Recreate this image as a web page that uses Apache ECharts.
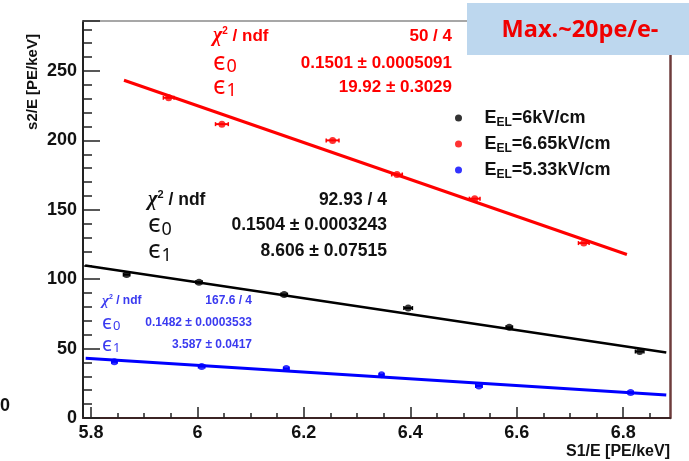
<!DOCTYPE html>
<html>
<head>
<meta charset="utf-8">
<script src="https://cdn.jsdelivr.net/npm/echarts@6/dist/echarts.min.js"></script>
<style>
  html, body { margin: 0; padding: 0; background: #fff; }
  #chart { width: 689px; height: 461px; }
</style>
</head>
<body>
<div id="chart"></div>
<script>
// measured points, S1/E vs s2/E
const blackX = [5.867, 6.003, 6.163, 6.396, 6.586, 6.831];
const blackY = [103.3, 97.8, 88.9, 79.2, 65.3, 47.9];
const blackErrX = [0.006, 0.006, 0.006, 0.008, 0.006, 0.008];

const redX = [5.946, 6.046, 6.254, 6.375, 6.521, 6.726];
const redY = [230.7, 211.7, 200.0, 175.4, 158.0, 126.0];
const redErrX = [0.010, 0.012, 0.012, 0.010, 0.010, 0.010];

const blueX = [5.844, 6.008, 6.167, 6.346, 6.529, 6.814];
const blueY = [40.5, 37.1, 35.6, 31.1, 23.1, 18.3];
const blueErrX = [0.005, 0.006, 0.005, 0.004, 0.006, 0.005];

// fit line end points
const blackFitX = [5.789, 6.881];
const blackFitY = [109.8, 47.2];
const redFitX = [5.862, 6.807];
const redFitY = [243.3, 117.8];
const blueFitX = [5.790, 6.881];
const blueFitY = [43.1, 16.6];

const xMajor = [5.8, 6.0, 6.2, 6.4, 6.6, 6.8];
const xMinor = [5.85, 5.9, 5.95, 6.05, 6.1, 6.15, 6.25, 6.3, 6.35, 6.45, 6.5, 6.55, 6.65, 6.7, 6.75, 6.85];

const names = ["E_EL=6kV/cm", "E_EL=6.65kV/cm", "E_EL=5.33kV/cm"];

const zip = (xs, ys) => xs.map((x, i) => [x, ys[i]]);
const zipErr = (xs, ys, es) => xs.map((x, i) => [x, ys[i], es[i]]);

const errBars = (data, color) => ({
    type: "custom",
    silent: true,
    data: data,
    renderItem: (params, api) => {
        const a = api.coord([api.value(0) - api.value(2), api.value(1)]);
        const b = api.coord([api.value(0) + api.value(2), api.value(1)]);
        return {
            type: "group",
            children: [
                { type: "line", shape: { x1: a[0], y1: a[1], x2: b[0], y2: b[1] }, style: { stroke: color, lineWidth: 2 } },
                { type: "line", shape: { x1: a[0], y1: a[1] - 2, x2: a[0], y2: a[1] + 2 }, style: { stroke: color, lineWidth: 1.5 } },
                { type: "line", shape: { x1: b[0], y1: b[1] - 2, x2: b[0], y2: b[1] + 2 }, style: { stroke: color, lineWidth: 1.5 } }
            ]
        };
    },
    z: 3
});

const fitLine = (xs, ys, color, width) => ({
    type: "line",
    data: zip(xs, ys),
    symbol: "none",
    silent: true,
    lineStyle: { color: color, width: width },
    z: 2
});

const scatter = (name, xs, ys, color) => ({
    name: name,
    type: "scatter",
    data: zip(xs, ys),
    symbol: "circle",
    symbolSize: 7,
    itemStyle: { color: color },
    z: 4
});

// fit-statistics box text
const statFont = "Liberation Sans, Arial, sans-serif";
const statRich = (size, color) => ({
    b: { fontFamily: statFont, fontWeight: "bold", fontSize: size, fill: color },
    chi: { fontFamily: "Liberation Serif, serif", fontStyle: "italic", fontWeight: "bold", fontSize: size + 3, fill: color },
    sup: { fontFamily: statFont, fontWeight: "bold", fontSize: Math.round(size * 0.6), fill: color, verticalAlign: "top", padding: [0, 0, size * 0.6, 0] },
    eps: { fontFamily: "Noto Sans, sans-serif", fontSize: size + 8, fill: color },
    sub: { fontFamily: "Noto Sans, sans-serif", fontSize: Math.round(size * 1.05), fill: color, padding: [size * 0.5, 0, 0, 1] }
});

const statBlock = (left, right, ys, size, color, vals) => {
    const rich = statRich(size, color);
    const lab = ["{chi|χ}{sup|2}{b| / ndf}", "{eps|ϵ}{sub|0}", "{eps|ϵ}{sub|1}"];
    const out = [];
    ys.forEach((y, i) => {
        out.push({ type: "text", x: left, y: y, style: { text: lab[i], rich: rich, verticalAlign: "middle", textAlign: "left" }, z: 10 });
        out.push({ type: "text", x: right, y: y, style: { text: vals[i], fontFamily: statFont, fontWeight: "bold", fontSize: size, fill: color, verticalAlign: "middle", textAlign: "right" }, z: 10 });
    });
    return out;
};

const option = {
    animation: false,
    grid: { left: 83, right: 19, top: 21, bottom: 43 },
    legend: {
        data: names,
        orient: "vertical",
        left: 450,
        top: 104,
        itemWidth: 42,
        itemHeight: 7,
        itemGap: 6,
        icon: "circle",
        formatter: (n) => "{b|E}{s|EL}{b|" + n.slice(4) + "}",
        textStyle: {
            rich: {
                b: { fontFamily: statFont, fontWeight: "bold", fontSize: 18, color: "#111", height: 22 },
                s: { fontFamily: statFont, fontWeight: "bold", fontSize: 12, color: "#111", padding: [10, 0, 0, 0] }
            }
        }
    },
    xAxis: [
        {
            type: "value",
            min: 5.785,
            max: 6.888,
            position: "bottom",
            axisLine: { lineStyle: { color: "#3b2424", width: 2 } },
            axisTick: { inside: true, length: 11, customValues: xMajor, lineStyle: { color: "#222", width: 1.5 } },
            axisLabel: {
                customValues: xMajor,
                margin: 6,
                formatter: (v) => String(Math.round(v * 10) / 10),
                fontFamily: statFont,
                fontWeight: "bold",
                fontSize: 18,
                color: "#111"
            },
            splitLine: { show: false }
        },
        {
            type: "value",
            min: 5.785,
            max: 6.888,
            position: "bottom",
            axisLine: { show: false },
            axisTick: { inside: true, length: 5, customValues: xMinor, lineStyle: { color: "#222", width: 1.5 } },
            axisLabel: { show: false },
            splitLine: { show: false }
        },
        {
            type: "value",
            min: 5.785,
            max: 6.888,
            position: "top",
            axisLine: { lineStyle: { color: "#8a8a8a", width: 1.5 } },
            axisTick: { show: false },
            axisLabel: { show: false },
            splitLine: { show: false }
        }
    ],
    yAxis: [
        {
            type: "value",
            min: 0,
            max: 286,
            interval: 50,
            position: "left",
            axisLine: { show: true, lineStyle: { color: "#222", width: 2 } },
            axisTick: { inside: true, length: 17, lineStyle: { color: "#222", width: 1.5 } },
            minorTick: { show: true, splitNumber: 5, length: 9, lineStyle: { color: "#222", width: 1.5 } },
            axisLabel: {
                margin: 6,
                showMaxLabel: false,
                fontFamily: statFont,
                fontWeight: "bold",
                fontSize: 18,
                color: "#111"
            },
            splitLine: { show: false }
        },
        {
            type: "value",
            min: 0,
            max: 286,
            position: "right",
            axisLine: { show: true, lineStyle: { color: "#6e3c3c", width: 2.5 } },
            axisTick: { show: false },
            axisLabel: { show: false },
            splitLine: { show: false }
        }
    ],
    series: [
        fitLine(redFitX, redFitY, "#ff0000", 3),
        fitLine(blackFitX, blackFitY, "#000000", 2.5),
        fitLine(blueFitX, blueFitY, "#0000ff", 3),
        errBars(zipErr(redX, redY, redErrX), "#ff0000"),
        errBars(zipErr(blackX, blackY, blackErrX), "#000000"),
        errBars(zipErr(blueX, blueY, blueErrX), "#0000ff"),
        scatter(names[0], blackX, blackY, "#000000"),
        scatter(names[1], redX, redY, "#ff0000"),
        scatter(names[2], blueX, blueY, "#0000ff")
    ],
    graphic: [
        { type: "rect", shape: { x: 467, y: 3, width: 222, height: 52 }, style: { fill: "#bdd7ee" }, z: 20 },
        { type: "text", x: 580, y: 30, style: { text: "Max.~20pe/e-", fontFamily: "Open Sans, sans-serif", fontWeight: "bold", fontSize: 23.5, fill: "#f00000", textAlign: "center", verticalAlign: "middle" }, z: 21 },
        { type: "text", x: 33, y: 82, rotation: Math.PI / 2, style: { text: "s2/E [PE/keV]", fontFamily: statFont, fontWeight: "bold", fontSize: 15, fill: "#111", textAlign: "center", verticalAlign: "middle" }, z: 10 },
        { type: "text", x: 670, y: 452, style: { text: "S1/E [PE/keV]", fontFamily: statFont, fontWeight: "bold", fontSize: 16, fill: "#111", textAlign: "right", verticalAlign: "middle" }, z: 10 },
        { type: "text", x: 0, y: 406, style: { text: "0", fontFamily: statFont, fontWeight: "bold", fontSize: 18, fill: "#111", textAlign: "left", verticalAlign: "middle" }, z: 10 }
    ]
        .concat(statBlock(213, 452, [36, 63, 87], 17, "#ff0000", ["50 / 4", "0.1501 ± 0.0005091", "19.92 ± 0.3029"]))
        .concat(statBlock(148, 387, [200, 225, 251], 17.5, "#111111", ["92.93 / 4", "0.1504 ± 0.0003243", "8.606 ± 0.07515"]))
        .concat(statBlock(102, 252, [301, 323, 345], 12, "#3a3af0", ["167.6 / 4", "0.1482 ± 0.0003533", "3.587 ± 0.0417"]))
};

const initChart = () => {
    const chart = echarts.init(document.getElementById("chart"));
    chart.setOption(option);
};

window.addEventListener("load", () => {
    initChart();
});
</script>
</body>
</html>
